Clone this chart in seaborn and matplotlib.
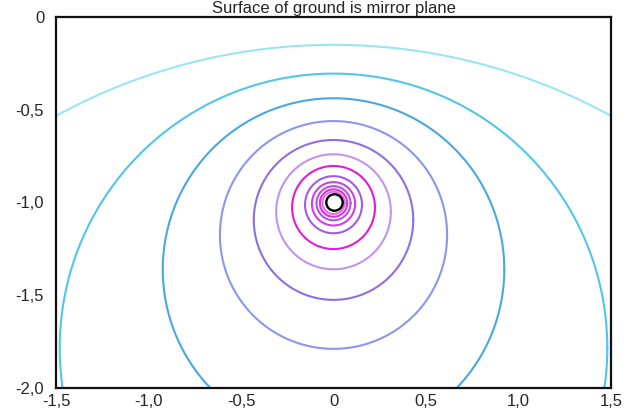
"""
Equipotential circles of a line source below a mirror-plane ground surface
"""
import numpy as np
import pandas as pd
import matplotlib
matplotlib.use("Agg")
import matplotlib.pyplot as plt
import seaborn as sns

# circles: centre height and radius (centre x is 0)
circle_cy = [-3.28, -1.785, -1.361, -1.175, -1.094, -1.05, -1.027,
             -1.012, -1.007, -1.004, -1.003, -1.002]
circle_r = [3.13, 1.48, 0.923, 0.614, 0.431, 0.31, 0.224,
            0.154, 0.117, 0.092, 0.074, 0.06]
circle_colors = ['#98e6f3', '#52c6ea', '#48a8e0', '#8c96f0', '#8e6ee6',
                 '#c294f0', '#e01cd8', '#a05ce2', '#d040e0', '#b054e2',
                 '#e030e0', '#e070e4']

source_x = [0.0]
source_y = [-1.0]

x_ticks = [-1.5, -1.0, -0.5, 0.0, 0.5, 1.0, 1.5]
x_tick_labels = ['-1,5', '-1,0', '-0,5', '0', '0,5', '1,0', '1,5']
y_ticks = [0.0, -0.5, -1.0, -1.5, -2.0]
y_tick_labels = ['0', '-0,5', '-1,0', '-1,5', '-2,0']

sns.set_style("white")
plt.rcParams['font.family'] = ['Liberation Sans', 'DejaVu Sans']

# build outline points for each circle
t = np.linspace(0, 2 * np.pi, 721)
rows = []
for i, (cy, r) in enumerate(zip(circle_cy, circle_r)):
    rows.append(pd.DataFrame({'x': r * np.cos(t), 'y': cy + r * np.sin(t), 'circle': i}))
df = pd.concat(rows, ignore_index=True)

fig = plt.figure(figsize=(6.38, 4.11), dpi=100)
ax = fig.add_axes([0.0878, 0.056, 0.8699, 0.9026])

sns.lineplot(data=df, x='x', y='y', hue='circle', palette=circle_colors,
             sort=False, estimator=None, legend=False, linewidth=1.5, ax=ax)
sns.scatterplot(x=source_x, y=source_y, s=140, color='white',
                edgecolor='black', linewidth=1.7, zorder=5, ax=ax)

ax.set_xlim(-1.5, 1.5)
ax.set_ylim(-2.0, 0.0)
ax.set_xticks(x_ticks)
ax.set_xticklabels(x_tick_labels, fontsize=12)
ax.set_yticks(y_ticks)
ax.set_yticklabels(y_tick_labels, fontsize=12)
ax.tick_params(axis='both', length=0)
ax.tick_params(axis='x', pad=4.5)
ax.tick_params(axis='y', pad=8.5)
ax.set_xlabel('')
ax.set_ylabel('')
for sp in ax.spines.values():
    sp.set_color('#111111')
    sp.set_linewidth(1.6)

ax.set_title('Surface of ground is mirror plane', fontsize=12, pad=3)

plt.savefig('out.png', dpi=100)
plt.close()
